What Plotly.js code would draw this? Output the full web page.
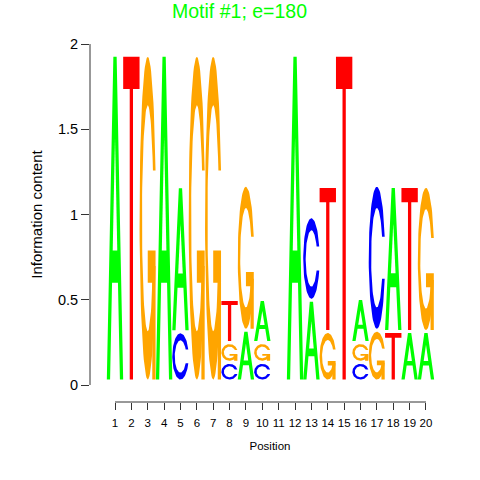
<!DOCTYPE html>
<html><head><meta charset="utf-8">
<script src="https://cdn.plot.ly/plotly-3.0.1.min.js"></script>
<style>html,body{margin:0;padding:0;background:#fff;}#chart{width:480px;height:480px;}</style>
</head><body><div id="chart"></div>
<script>
const positions = [1,2,3,4,5,6,7,8,9,10,11,12,13,14,15,16,17,18,19,20];
const tickLabels = positions.map(String);
const yTickVals = [0, 0.5, 1, 1.5, 2];
const yTickText = ['0', '0.5', '1', '1.5', '2'];
const heightA = [1.893,0,0,1.893,0.833,0,0,0,0.28,0.235,0,1.893,0.456,0,0,0.24,0,0.833,0.273,0.273];
const heightC = [0,0,0,0,0.271,0,0,0.092,0,0.092,0,0,0.472,0,0,0.092,0.833,0,0,0];
const heightG = [0,0,1.893,0,0,1.893,1.893,0.098,0.833,0.098,0,0,0,0.273,0,0.098,0.28,0,0,0.833];
const heightT = [0,1.893,0,0,0,0,0,0.235,0,0,0,0,0,0.833,1.893,0,0,0.273,0.833,0];

// ---- style ----
const colors = {A:'#00ff00', C:'#0000ff', G:'#ffa500', T:'#ff0000'};
const BASE = 0.032, GAP = 0.018;
const FONT = 'Liberation Sans, Arial, Helvetica, sans-serif';

// unit-box glyph outlines
function arcC() {
  const pts = [];
  const N = 80;
  const a0 = 0.3, a1 = 2*Math.PI - 0.3;
  for (let i = 0; i <= N; i++) { const t = a0 + (a1-a0)*i/N; pts.push([0.5+0.5*Math.cos(t), 0.5+0.5*Math.sin(t)]); }
  const b0 = 0.4366, b1 = 2*Math.PI - 0.4366;
  for (let i = 0; i <= N; i++) { const t = b1 - (b1-b0)*i/N; pts.push([0.5+0.35*Math.cos(t), 0.5+0.35*Math.sin(t)]); }
  return pts;
}
function glyph(letter) {
  if (letter === 'A') return [
    {pts:[[0,0],[0.4,1],[0.6,1],[1,0],[0.8,0],[0.68,0.3],[0.32,0.3],[0.2,0]], white:false},
    {pts:[[0.36,0.4],[0.5,0.75],[0.64,0.4]], white:true}];
  if (letter === 'T') return [
    {pts:[[0,1],[1,1],[1,0.9],[0.6,0.9],[0.6,0],[0.4,0],[0.4,0.9],[0,0.9]], white:false}];
  if (letter === 'C') return [{pts:arcC(), white:false}];
  if (letter === 'G') return [
    {pts:arcC(), white:false},
    {pts:[[0.978,0.4],[0.5,0.4],[0.5,0.3],[0.778,0.3],[0.778,0],[0.978,0]], white:false}];
}

const heights = {A:heightA, C:heightC, G:heightG, T:heightT};
const traces = [];
positions.forEach((p, j) => {
  const col = ['A','C','G','T'].map(l => ({l, h: heights[l][j]})).filter(d => d.h > 0);
  col.sort((a,b) => a.h - b.h);
  let y = BASE;
  col.forEach(d => {
    glyph(d.l).forEach(part => {
      const xs = part.pts.map(q => p - 0.5 + q[0]);
      const ys = part.pts.map(q => y + q[1]*d.h);
      xs.push(xs[0]); ys.push(ys[0]);
      const c = part.white ? '#ffffff' : colors[d.l];
      traces.push({type:'scatter', x:xs, y:ys, mode:'lines', fill:'toself',
        fillcolor:c, line:{color:c, width:0}, hoverinfo:'skip', showlegend:false});
    });
    y += d.h + GAP;
  });
});

const layout = {
  width:480, height:480,
  margin:{l:90, r:30, t:27, b:78},
  paper_bgcolor:'#ffffff', plot_bgcolor:'#ffffff',
  font:{family:FONT, color:'#000'},
  title:{text:'Motif #1; e=180', font:{family:FONT, size:19.5, color:'#00ff00'},
         x:0.499, xref:'container', xanchor:'center', y:1-11/480, yref:'container', yanchor:'middle'},
  xaxis:{range:[-0.5274, 21.467], tickvals:positions, ticktext:tickLabels,
         ticks:'outside', ticklen:7, tickcolor:'#333', tickwidth:1, ticklabelstandoff:3,
         showline:false, showgrid:false, zeroline:false,
         tickfont:{family:FONT, size:11.5, color:'#000'},
         title:{text:'Position', font:{family:FONT, size:11.5, color:'#000'}, standoff:14}},
  yaxis:{range:[-0.0997, 2.1], tickvals:yTickVals, ticktext:yTickText,
         ticks:'outside', ticklen:8, tickcolor:'#333', tickwidth:1,
         showline:false, showgrid:false, zeroline:false,
         tickfont:{family:FONT, size:14.5, color:'#000'},
         title:{text:'Information content', font:{family:FONT, size:15, color:'#000'}, standoff:11}},
  shapes:[
    {type:'line', xref:'x', yref:'paper', x0:1, x1:20, y0:0, y1:0, line:{color:'#333', width:1}},
    {type:'line', xref:'paper', yref:'y', x0:0, x1:0, y0:0, y1:2, line:{color:'#333', width:1}}
  ]
};
Plotly.newPlot('chart', traces, layout, {staticPlot:true, displayModeBar:false});
</script></body></html>
